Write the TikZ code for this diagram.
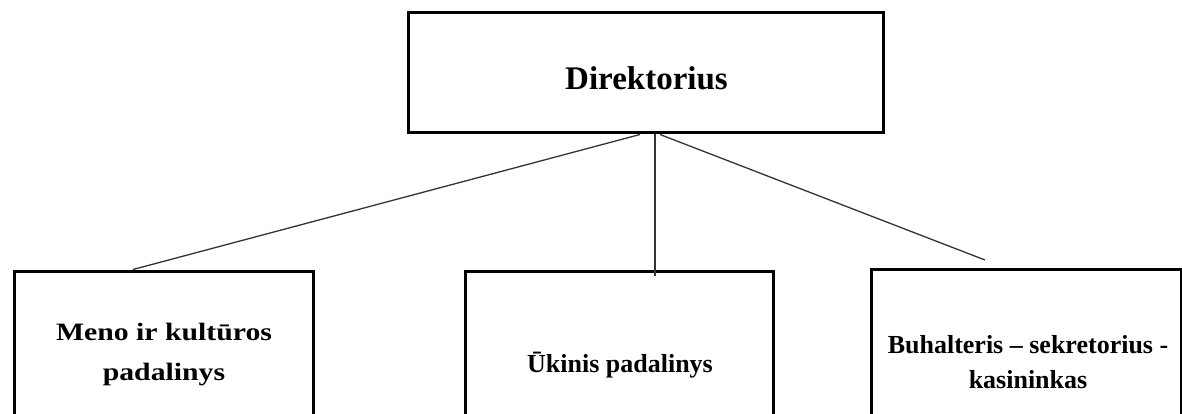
\documentclass[tikz,border=0pt]{standalone}
\usepackage{fontspec}
\setmainfont{Liberation Serif}
\newfontfamily\wideserif[FakeStretch=1.19]{Liberation Serif}
\begin{document}
\begin{tikzpicture}[x=1pt,y=-1pt,
  box/.style={draw=black, line width=3pt, inner sep=0pt},
  conn/.style={draw=black!80, line width=1.3pt},
  lbl/.style={align=center, inner sep=0pt, text=black}]
\useasboundingbox (0,0) rectangle (1182,414);
\fill[white] (0,0) rectangle (1182,414);
\clip (0,0) rectangle (1182,414);
% boxes
\node[box, minimum width=475pt, minimum height=120pt] (dir) at (645.5,73) {};
\node[box, minimum width=299pt, minimum height=169pt] (meno) at (163.5,355.5) {};
\node[box, minimum width=308pt, minimum height=169pt] (ukis) at (619,355.5) {};
\node[box, minimum width=310pt, minimum height=169pt] (buh) at (1026,353.5) {};
% texts
\node[lbl, anchor=base, font=\bfseries\fontsize{33}{40}\selectfont] (dirt) at (646.5,90) {Direktorius};
\node[lbl, anchor=base, font=\wideserif\bfseries\fontsize{25}{40}\selectfont] (menot) at (164,380) {Meno ir kultūros\\padalinys};
\node[lbl, anchor=base, font=\bfseries\fontsize{26}{35}\selectfont] (ukist) at (620,372) {Ūkinis padalinys};
\node[lbl, anchor=base, font=\bfseries\fontsize{26}{35}\selectfont] (buht) at (1028,388) {Buhalteris – sekretorius -\\kasininkas};
% connectors
\coordinate (rend) at (985,260);
\draw[conn] ([xshift=-5.5pt]dir.south) -- ([xshift=-30.5pt]meno.north);
\draw[conn] ([xshift=9.5pt]dir.south) -- ([xshift=36pt,yshift=-6pt]ukis.north);
\draw[conn] ([xshift=14.5pt]dir.south) -- (rend);
\end{tikzpicture}
\end{document}
